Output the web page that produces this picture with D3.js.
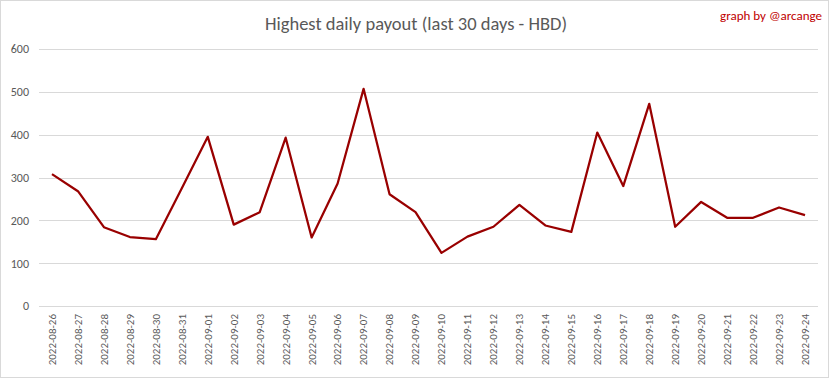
<!DOCTYPE html>
<html><head><meta charset="utf-8">
<script src="https://cdn.jsdelivr.net/npm/d3@7"></script>
<style>body{margin:0;background:#fff}svg{display:block}</style>
</head><body>
<script>
const dates = ["2022-08-26","2022-08-27","2022-08-28","2022-08-29","2022-08-30","2022-08-31","2022-09-01","2022-09-02","2022-09-03","2022-09-04","2022-09-05","2022-09-06","2022-09-07","2022-09-08","2022-09-09","2022-09-10","2022-09-11","2022-09-12","2022-09-13","2022-09-14","2022-09-15","2022-09-16","2022-09-17","2022-09-18","2022-09-19","2022-09-20","2022-09-21","2022-09-22","2022-09-23","2022-09-24"];
const payout = [308,268,184,161,156,275,395,190,219,393,160,286,507,261,219,124,162,185,236,188,173,405,280,472,185,243,206,206,230,212];
const yTicks = [0,100,200,300,400,500,600];
const title = "Highest daily payout (last 30 days - HBD)";
const credit = "graph by @arcange";

const W = 833, H = 379;
const m = {left:39, right:15, top:49, bottom:73};
const svg = d3.select("body").append("svg").attr("width",W).attr("height",H);
const font = "Carlito, Calibri, Lato, 'Liberation Sans', sans-serif";

svg.append("rect").attr("x",0.5).attr("y",0.5).attr("width",828).attr("height",377)
  .attr("fill","#fff").attr("stroke","#d9d9d9");

const x = d3.scaleBand().domain(dates).range([m.left, W-m.right]);
const y = d3.scaleLinear().domain([0,600]).range([H-m.bottom, m.top]);

const grid = svg.append("g");
grid.selectAll("line").data(yTicks).join("line")
  .attr("x1",m.left).attr("x2",W-m.right)
  .attr("y1",d=>Math.round(y(d))+0.5).attr("y2",d=>Math.round(y(d))+0.5)
  .attr("stroke","#d9d9d9").attr("stroke-width",1);

const yAxis = svg.append("g").attr("transform",`translate(${m.left},0)`)
  .call(d3.axisLeft(y).tickValues(yTicks).tickSize(0).tickPadding(10));
yAxis.select(".domain").remove();
yAxis.selectAll("text").attr("fill","#595959").style("font-family",font).style("font-size","12px");

const xAxis = svg.append("g").attr("transform",`translate(0,${H-m.bottom})`)
  .call(d3.axisBottom(x).tickSize(0));
xAxis.select(".domain").remove();
xAxis.selectAll("text").attr("fill","#595959").style("font-family",font).style("font-size","11px")
  .attr("transform","rotate(-90)").attr("text-anchor","end").attr("x",-8).attr("y",0).attr("dy","0.35em");

const line = d3.line().x((d,i)=>x(dates[i])+x.bandwidth()/2).y(d=>y(d));
svg.append("path").datum(payout).attr("d",line).attr("fill","none")
  .attr("stroke","#990000").attr("stroke-width",2.25).attr("stroke-linejoin","round");

svg.append("text").attr("x",416).attr("y",30).attr("text-anchor","middle")
  .attr("fill","#595959").style("font-family",font).style("font-weight","300").style("font-size","18.5px").text(title);
svg.append("text").attr("x",822).attr("y",20).attr("text-anchor","end")
  .attr("fill","#c00000").style("font-family",font).style("font-size","13px").text(credit);
</script>
</body></html>
